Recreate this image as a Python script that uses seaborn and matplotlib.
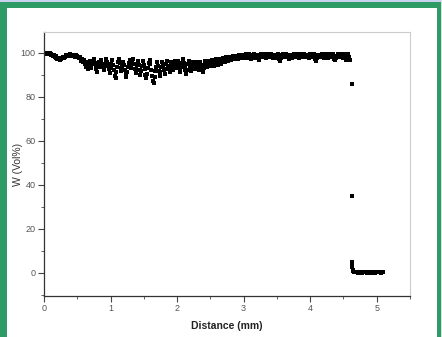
import numpy as np
import pandas as pd
import matplotlib
matplotlib.use("Agg")
import matplotlib.pyplot as plt
from matplotlib.patches import Rectangle
from matplotlib.ticker import MultipleLocator
import seaborn as sns

# --- data ---
band_values = [
    # 0.0 - 0.5 mm
    100, 100, 99.8, 99.6, 100, 99.7, 99.4, 99.8, 99.2, 99.5, 99.0, 98.6, 98.9, 98.2, 98.5, 97.9, 97.4, 97.8, 97.2, 96.9,
    97.5, 97.1, 97.8, 98.3, 97.6, 98.0, 98.6, 99.0, 98.7, 99.2, 98.8, 99.3, 99.0, 98.5, 98.9, 99.2, 98.6, 98.1, 98.8, 99.0,
    # 0.5 - 1.0 mm
    98.7, 98.2, 97.6, 98.1, 97.0, 96.4, 97.2, 95.8, 96.6, 94.9, 95.7, 93.8, 94.6, 92.7, 95.2, 96.1, 94.3, 93.1, 95.0, 96.4,
    97.3, 95.6, 94.0, 92.5, 91.4, 93.6, 95.8, 94.7, 96.9, 95.2, 93.4, 94.8, 92.1, 93.9, 95.5, 97.0, 95.9, 94.1, 92.8, 91.0,
    # 1.0 - 1.5 mm
    93.2, 95.1, 96.6, 94.4, 92.0, 89.6, 88.7, 91.5, 93.8, 95.7, 97.2, 95.3, 93.0, 91.7, 94.2, 96.0, 94.6, 92.3, 90.4, 88.9,
    91.1, 93.5, 95.4, 96.8, 94.9, 93.1, 95.6, 97.1, 95.0, 92.6, 90.8, 92.9, 94.7, 96.3, 94.5, 92.2, 89.8, 91.9, 94.0, 96.1,
    # 1.5 - 2.0 mm
    94.3, 92.5, 90.1, 88.4, 90.6, 93.2, 95.5, 96.9, 94.8, 92.4, 89.7, 87.2, 86.5, 88.9, 91.6, 93.7, 95.9, 94.1, 91.8, 89.5,
    91.3, 93.8, 96.0, 94.6, 92.0, 90.3, 92.7, 95.1, 96.5, 94.2, 92.9, 91.1, 93.4, 95.7, 94.3, 92.1, 93.9, 96.2, 94.7, 93.0,
    # 2.0 - 2.5 mm
    94.6, 96.3, 95.0, 92.8, 91.2, 93.5, 95.6, 97.0, 95.4, 93.6, 92.0, 90.5, 92.4, 94.8, 96.1, 94.9, 93.3, 91.8, 93.7, 95.9,
    94.5, 92.6, 94.1, 96.0, 95.2, 93.8, 92.3, 94.0, 95.7, 94.4, 93.0, 91.5, 93.2, 95.1, 96.3, 95.0, 93.6, 94.9, 96.2, 95.3,
    # 2.5 - 3.0 mm
    94.1, 95.6, 96.8, 95.3, 93.9, 95.0, 96.4, 97.1, 95.8, 94.6, 96.0, 97.3, 96.2, 95.1, 96.6, 97.6, 96.9, 95.9, 97.2, 98.0,
    97.1, 96.4, 97.5, 98.2, 97.4, 96.7, 97.8, 98.5, 97.7, 97.0, 98.1, 98.8, 98.0, 97.3, 98.3, 99.0, 98.2, 97.6, 98.6, 99.1,
    # 3.0 - 3.5 mm
    98.4, 97.8, 98.9, 99.4, 98.6, 97.9, 98.7, 99.3, 98.1, 97.2, 98.4, 99.2, 99.6, 98.8, 97.6, 98.5, 99.1, 98.3, 96.8, 97.9,
    98.9, 99.5, 98.7, 98.0, 99.0, 99.4, 98.2, 97.5, 98.6, 99.3, 98.8, 98.1, 99.2, 99.6, 98.9, 97.7, 98.4, 99.1, 98.5, 97.9,
    # 3.5 - 4.0 mm
    98.8, 99.4, 98.6, 97.3, 96.4, 97.8, 98.9, 99.5, 98.7, 98.0, 99.1, 99.6, 98.8, 98.2, 97.4, 98.5, 99.2, 98.6, 97.9, 98.9,
    99.5, 98.7, 98.1, 99.0, 99.4, 98.3, 97.6, 98.7, 99.3, 98.9, 98.2, 99.1, 99.6, 98.8, 98.0, 98.6, 99.2, 98.4, 97.7, 98.8,
    # 4.0 - 4.5 mm
    99.3, 98.7, 98.0, 99.0, 99.5, 98.4, 97.1, 96.2, 97.5, 98.6, 99.2, 98.8, 98.1, 99.0, 99.6, 98.9, 98.3, 97.6, 98.7, 99.3,
    98.5, 97.8, 98.9, 99.4, 98.6, 98.0, 99.1, 99.5, 98.7, 97.4, 96.6, 97.9, 98.8, 99.3, 98.5, 98.0, 99.0, 99.4, 98.6, 97.9,
    # 4.5 - 4.6 mm
    98.8, 99.3, 98.1, 96.9, 97.6, 98.7, 99.4, 98.2, 96.8,
]
band_step = 0.0125  # mm between measurement points in the band

tail_distance = [4.63, 4.63, 4.63, 4.632, 4.634, 4.636, 4.64, 4.66, 4.68, 4.70, 4.72, 4.74, 4.76, 4.78, 4.80,
                 4.82, 4.84, 4.86, 4.88, 4.90, 4.92, 4.94, 4.96, 4.98, 5.00, 5.02, 5.04, 5.06, 5.08, 5.10]
tail_values = [86, 35, 5.1, 3.8, 2.6, 1.5, 0.8, 0.4, 0.2, 0.3, 0.1, 0.2, 0.3, 0.1, 0.2,
               0.3, 0.2, 0.1, 0.3, 0.2, 0.1, 0.2, 0.3, 0.1, 0.2, 0.3, 0.2, 0.1, 0.2, 0.3]

x_ticks = [0, 1, 2, 3, 4, 5]
y_ticks = [0, 20, 40, 60, 80, 100]

band_distance = [i * band_step for i in range(len(band_values))]
df = pd.DataFrame({
    "Distance (mm)": band_distance + tail_distance,
    "W (Vol%)": band_values + tail_values,
})

sns.set_style("white")
plt.rcParams["font.family"] = ["Liberation Sans", "DejaVu Sans"]
W, H = 442, 337
fig = plt.figure(figsize=(W / 100, H / 100), dpi=100)
fig.patch.set_facecolor("white")

green = "#2e9b67"
def px_rect(x0, y0, w, h, color, z=10):
    fig.add_artist(Rectangle((x0 / W, 1 - (y0 + h) / H), w / W, h / H, transform=fig.transFigure,
                             facecolor=color, edgecolor="none", zorder=z))

px_rect(0, 0, W, 2, "#c9d2ee", 11)      # light strip at top
px_rect(0, 2, W, 6, green)              # top bar
px_rect(0, 2, 7, H - 2, green)          # left bar
px_rect(437, 2, 4, H - 2, green)        # right bar
px_rect(441, 0, 1, H, "#d8e4dc", 11)

ax = fig.add_axes([44 / W, 41 / H, 366 / W, 264 / H])
sns.scatterplot(data=df, x="Distance (mm)", y="W (Vol%)", marker="s", s=12,
                color="black", edgecolor="black", linewidth=0, ax=ax, legend=False)

ax.set_xlim(0, 5.5)
ax.set_ylim(-10.5, 109.5)
ax.set_xticks(x_ticks)
ax.set_yticks(y_ticks)
ax.xaxis.set_minor_locator(MultipleLocator(0.5))
ax.yaxis.set_minor_locator(MultipleLocator(10))
ax.tick_params(axis="both", which="major", direction="out", length=4, width=0.8,
               labelsize=6.5, labelcolor="#555555", color="#444444", pad=2,
               bottom=True, left=True)
ax.tick_params(axis="both", which="minor", direction="out", length=2, width=0.6,
               color="#444444", bottom=True, left=True)
for s in ["left", "bottom"]:
    ax.spines[s].set_color("#333333")
    ax.spines[s].set_linewidth(0.9)
for s in ["top", "right"]:
    ax.spines[s].set_color("#cccccc")
    ax.spines[s].set_linewidth(0.8)
ax.set_xlabel("Distance (mm)", fontsize=7.5, color="#222222", fontweight="bold")
ax.set_ylabel("W (Vol%)", fontsize=7.5, color="#333333")
ax.xaxis.set_label_coords(0.5, -0.095)
ax.yaxis.set_label_coords(-0.058, 0.5)

fig.savefig("out.png", dpi=100)
